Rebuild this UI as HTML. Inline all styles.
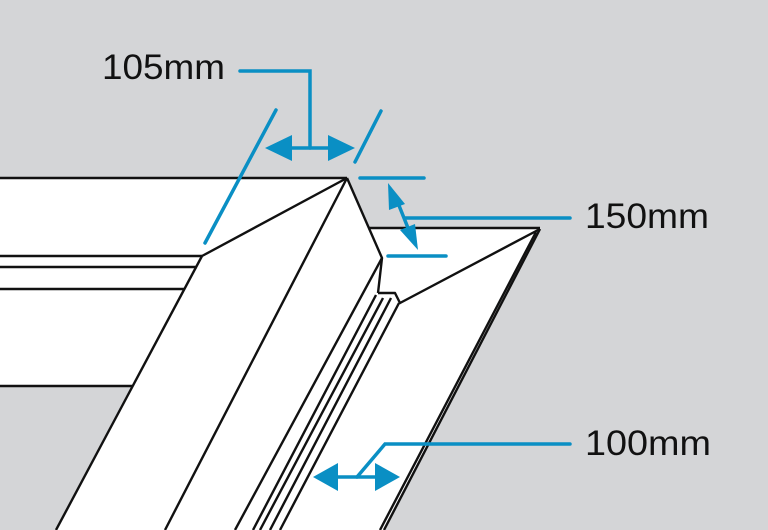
<!DOCTYPE html>
<html><head><style>html,body{margin:0;padding:0;background:#d4d5d7}svg{display:block}</style></head>
<body>
<svg width="768" height="530" viewBox="0 0 768 530" xmlns="http://www.w3.org/2000/svg">
<rect width="768" height="530" fill="#d4d5d7"/>
<polygon points="0,178 347,178 368,228 540,228 384,530 56,530 132,386 0,386" fill="#fff"/>
<g stroke="#111" stroke-width="2.4" fill="none" stroke-linejoin="round">
<line x1="0" y1="178" x2="347" y2="178"/>
<line x1="0" y1="256" x2="202" y2="256"/>
<line x1="0" y1="267" x2="197" y2="267"/>
<line x1="0" y1="289" x2="185" y2="289"/>
<line x1="0" y1="386" x2="132" y2="386"/>
<line x1="202" y1="256" x2="56" y2="530"/>
<line x1="202" y1="256" x2="347" y2="178"/>
<line x1="347" y1="178" x2="165" y2="530"/>
<polyline points="347,178 382,258 378,293"/>
<line x1="382" y1="258" x2="235" y2="530"/>
<line x1="368" y1="228" x2="540" y2="228"/>
<line x1="540" y1="229" x2="384" y2="530"/>
<line x1="536" y1="232" x2="380" y2="530"/>
<polyline points="378,293 395,293 400,303 540,229"/>
<line x1="376" y1="295" x2="253" y2="530"/>
<line x1="383" y1="298" x2="260" y2="530"/>
<line x1="391" y1="298" x2="270" y2="530"/>
<line x1="399" y1="303" x2="280" y2="530"/>
</g>
<g stroke="#0a8fc4" stroke-width="3.5" fill="none" stroke-linecap="round">
<polyline points="240,71 310,71 310,148"/>
<line x1="276" y1="110" x2="205" y2="243"/>
<line x1="381" y1="111" x2="355" y2="162"/>
<line x1="280" y1="148" x2="340" y2="148"/>
<line x1="360" y1="178" x2="424" y2="178"/>
<line x1="388" y1="256" x2="446" y2="256"/>
<line x1="396" y1="198" x2="412" y2="238"/>
<line x1="405" y1="218" x2="570" y2="218"/>
<line x1="325" y1="477" x2="388" y2="477"/>
<polyline points="357,477 385,444 570,444"/>
</g>
<g fill="#0a8fc4">
<polygon points="265,148 292,135 292,161"/>
<polygon points="355,148 328,135 328,161"/>
<polygon points="388,183 405,204 389,210"/>
<polygon points="418,250 400,230 415,224"/>
<polygon points="313,477 338,463 338,491"/>
<polygon points="400,477 375,463 375,491"/>
</g>
<g font-family="Liberation Sans, sans-serif" font-size="35" fill="#111">
<text x="102" y="79" textLength="123" lengthAdjust="spacingAndGlyphs">105mm</text>
<text x="585" y="228" textLength="124" lengthAdjust="spacingAndGlyphs">150mm</text>
<text x="585" y="455" textLength="126" lengthAdjust="spacingAndGlyphs">100mm</text>
</g>
</svg>
</body></html>
